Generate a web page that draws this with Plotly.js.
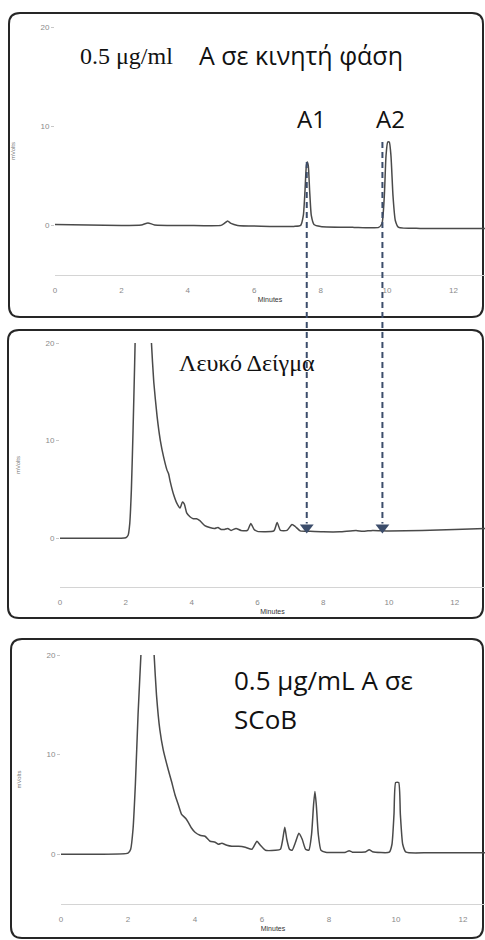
<!DOCTYPE html>
<html>
<head>
<meta charset="utf-8">
<script src="https://cdn.plot.ly/plotly-3.0.1.min.js"></script>
<style>html,body{margin:0;padding:0;background:#fff;}#chart{width:485px;height:940px;}</style>
</head>
<body>
<div id="chart"></div>
<script>
// ---------- data (minutes, mVolts) ----------
const t1 = [0,1.0,2.0,2.6,2.8,3.0,4.0,5.0,5.1,5.2,5.3,5.5,6.5,7.2,7.4,7.48,7.53,7.57,7.6,7.63,7.67,7.72,7.8,8.0,9.0,9.75,9.85,9.92,9.97,10.02,10.07,10.12,10.18,10.25,10.35,11.0,12.95];
const v1 = [0.1,0.05,0.0,0.05,0.25,0.05,0.0,0.0,0.2,0.45,0.2,0.0,-0.1,-0.1,0.0,1.0,3.5,6.0,6.4,6.0,3.5,1.0,0.1,-0.1,-0.2,-0.2,0.2,3.0,7.0,8.4,8.4,7.0,3.0,0.5,-0.2,-0.3,-0.3];

const t2 = [0,1.0,2.0,2.07,2.12,2.17,2.22,2.27,2.32,2.5,2.7,2.78,2.85,2.95,3.05,3.15,3.25,3.3,3.35,3.45,3.55,3.65,3.72,3.78,3.85,3.95,4.05,4.15,4.25,4.4,4.55,4.7,4.8,4.9,5.0,5.1,5.2,5.35,5.5,5.7,5.8,5.9,6.0,6.5,6.6,6.7,6.9,7.05,7.15,7.3,7.6,8.0,8.5,9.0,9.2,9.5,10,11,12,12.92];
const v2 = [0.0,0.0,0.05,0.3,1.5,5,11,18,25,35,28,20,16,12.5,10,8.3,7.0,6.6,5.8,4.5,3.6,3.1,3.7,3.5,2.6,2.2,2.0,2.0,1.8,1.3,1.1,1.0,1.1,0.9,0.9,1.0,0.8,1.0,0.8,0.8,1.5,0.9,0.7,0.75,1.6,0.8,0.8,1.4,1.2,0.75,0.7,0.65,0.65,0.8,0.7,0.8,0.75,0.8,0.9,1.0];

const t3 = [0,1,2.0,2.08,2.15,2.22,2.3,2.4,2.55,2.7,2.78,2.85,2.95,3.05,3.2,3.3,3.4,3.5,3.6,3.72,3.8,3.9,4.0,4.15,4.3,4.45,4.6,4.7,4.8,4.95,5.1,5.3,5.5,5.7,5.85,5.95,6.1,6.4,6.55,6.62,6.68,6.74,6.82,6.9,7.0,7.1,7.2,7.3,7.4,7.48,7.54,7.58,7.62,7.68,7.76,7.9,8.5,8.6,8.7,9.1,9.2,9.3,9.8,9.88,9.94,9.99,10.08,10.13,10.2,10.3,11,12.66];
const v3 = [0.0,0.0,0.1,0.5,2.5,7,14,21,32,26,20,16,12.5,10.5,8.5,7.3,6.0,5.0,4.0,3.6,3.2,2.6,2.2,1.9,1.8,1.3,1.2,1.0,1.1,0.9,0.8,0.8,0.7,0.5,1.3,0.9,0.4,0.4,0.5,1.5,2.7,1.5,0.5,0.4,1.2,2.1,1.5,0.5,0.4,2.0,5.0,6.3,5.0,2.0,0.4,0.2,0.2,0.35,0.2,0.25,0.45,0.25,0.2,1.0,4.0,7.2,7.2,4.0,1.0,0.2,0.15,0.15];

const xTicks = [0,2,4,6,8,10,12];
const yTicks = [0,10,20];
const arrowX = [7.5, 9.8];      // retention times of A1, A2 markers (minutes)
const peakTops = [6.4, 8.4];    // apex heights of A1, A2 in panel 1 (mVolts)
const arrowTipY = [1.1, 1.1];   // arrow head level in panel 2 (mVolts)

// ---------- layout helpers ----------
const W = 485, H = 940;
const px = x => x / W;
const py = y => 1 - y / H;

const yRange = [-5, 20];
const dom1 = [py(275), py(27)];
const dom2 = [py(587), py(343)];
const dom3 = [py(904), py(655)];
const toPaper = (v, dom) => dom[0] + (v - yRange[0]) / (yRange[1] - yRange[0]) * (dom[1] - dom[0]);

const lineColor = '#4a4a4a';
const arrowColor = '#3c4d6b';
const sans = 'Open Sans, Noto Sans, sans-serif';
const serif = 'Liberation Serif, Times New Roman, serif';

function xax(dom, rng, anchor) {
  return {
    domain: dom, range: rng, anchor: anchor,
    tickmode: 'array', tickvals: xTicks, ticktext: xTicks.map(String),
    ticks: 'outside', ticklen: 7, tickcolor: 'rgba(0,0,0,0)',
    tickfont: {family: 'Liberation Sans, Arial, sans-serif', size: 8, color: '#8a8a8a'},
    showline: true, linecolor: '#d4d4d4', linewidth: 1,
    showgrid: false, zeroline: false, fixedrange: true,
    title: {text: 'Minutes', font: {family: 'Liberation Sans, Arial, sans-serif', size: 7, color: '#333'}, standoff: 3}
  };
}
function yax(dom, anchor) {
  return {
    domain: dom, range: yRange, anchor: anchor,
    tickmode: 'array', tickvals: yTicks, ticktext: yTicks.map(String),
    ticks: 'outside', ticklen: 3, tickcolor: '#c8c8c8',
    tickfont: {family: 'Liberation Sans, Arial, sans-serif', size: 8, color: '#8a8a8a'},
    showline: false, showgrid: false, zeroline: false, fixedrange: true,
    title: {text: 'mVolts', font: {family: 'Liberation Sans, Arial, sans-serif', size: 6, color: '#777'}, standoff: 24}
  };
}

function roundBox(x0, y0, x1, y1, r) {
  const X0 = px(x0), X1 = px(x1), Y0 = py(y0), Y1 = py(y1);
  const rx = r / W, ry = r / H;
  return {
    type: 'path', xref: 'paper', yref: 'paper', layer: 'below',
    path: `M ${X0+rx},${Y0} L ${X1-rx},${Y0} Q ${X1},${Y0} ${X1},${Y0-ry} L ${X1},${Y1+ry} Q ${X1},${Y1} ${X1-rx},${Y1} L ${X0+rx},${Y1} Q ${X0},${Y1} ${X0},${Y1+ry} L ${X0},${Y0-ry} Q ${X0},${Y0} ${X0+rx},${Y0} Z`,
    line: {color: '#262626', width: 2}, fillcolor: '#ffffff'
  };
}

const traces = [
  {x: t1, y: v1, xaxis: 'x', yaxis: 'y', mode: 'lines', line: {color: lineColor, width: 1.5, shape: 'spline', smoothing: 0.5}, hoverinfo: 'skip'},
  {x: t2, y: v2, xaxis: 'x2', yaxis: 'y2', mode: 'lines', line: {color: lineColor, width: 1.5, shape: 'spline', smoothing: 0.5}, hoverinfo: 'skip'},
  {x: t3, y: v3, xaxis: 'x3', yaxis: 'y3', mode: 'lines', line: {color: lineColor, width: 1.5, shape: 'spline', smoothing: 0.5}, hoverinfo: 'skip'},
  {x: arrowX, y: arrowTipY, xaxis: 'x2', yaxis: 'y2', mode: 'markers', marker: {symbol: 'triangle-down', size: 12, color: arrowColor}, hoverinfo: 'skip', cliponaxis: false}
];

const shapes = [
  roundBox(9, 13, 483, 317, 11),
  roundBox(8, 330, 483, 618, 11),
  roundBox(11, 639, 483, 938, 11)
];
arrowX.forEach((x, i) => {
  shapes.push({
    type: 'line', xref: 'x2', yref: 'paper', layer: 'above',
    x0: x, x1: x, y0: toPaper(peakTops[i], dom1), y1: toPaper(arrowTipY[i] + 0.4, dom2),
    line: {color: arrowColor, width: 2, dash: '6px,4px'}
  });
});

const annotations = [
  {text: '0.5 μg/ml', x: px(78), y: py(56), xref: 'paper', yref: 'paper', xanchor: 'left', yanchor: 'middle', showarrow: false, font: {family: serif, size: 24, color: '#111'}},
  {text: 'Α σε κινητή φάση', x: px(197), y: py(55), xref: 'paper', yref: 'paper', xanchor: 'left', yanchor: 'middle', showarrow: false, font: {family: sans, size: 25, color: '#111'}},
  {text: 'A1', x: px(311.5), y: py(119), xref: 'paper', yref: 'paper', xanchor: 'center', yanchor: 'middle', showarrow: false, font: {family: sans, size: 24, color: '#111'}},
  {text: 'A2', x: px(390.5), y: py(119), xref: 'paper', yref: 'paper', xanchor: 'center', yanchor: 'middle', showarrow: false, font: {family: sans, size: 24, color: '#111'}},
  {text: 'Λευκό Δείγμα', x: px(177), y: py(363), xref: 'paper', yref: 'paper', xanchor: 'left', yanchor: 'middle', showarrow: false, font: {family: serif, size: 24, color: '#111'}},
  {text: '0.5 μg/mL Α σε', x: px(232), y: py(680), xref: 'paper', yref: 'paper', xanchor: 'left', yanchor: 'middle', showarrow: false, font: {family: sans, size: 26, color: '#111'}},
  {text: 'SCoB', x: px(232), y: py(719), xref: 'paper', yref: 'paper', xanchor: 'left', yanchor: 'middle', showarrow: false, font: {family: sans, size: 26, color: '#111'}}
];

const layout = {
  width: W, height: H,
  margin: {l: 0, r: 0, t: 0, b: 0},
  paper_bgcolor: '#ffffff', plot_bgcolor: 'rgba(0,0,0,0)',
  showlegend: false,
  xaxis: xax([px(55), 1], [0, (W - 55) / 33.2], 'y'),
  yaxis: yax(dom1, 'x'),
  xaxis2: xax([px(60), 1], [0, (W - 60) / 32.9], 'y2'),
  yaxis2: yax(dom2, 'x2'),
  xaxis3: xax([px(61), 1], [0, (W - 61) / 33.5], 'y3'),
  yaxis3: yax(dom3, 'x3'),
  shapes: shapes,
  annotations: annotations
};

Plotly.newPlot('chart', traces, layout, {displayModeBar: false, staticPlot: true});
</script>
</body>
</html>
